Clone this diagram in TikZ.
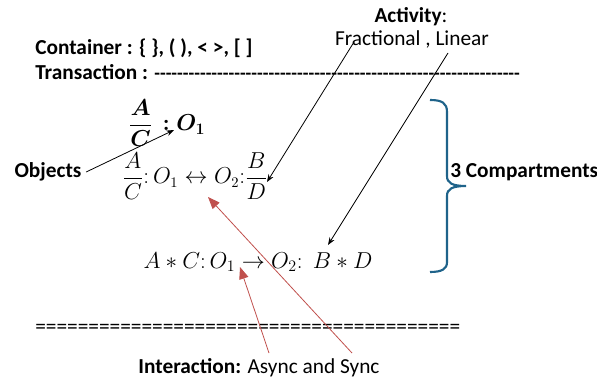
\documentclass[tikz,border=0pt]{standalone}
\usepackage{amsmath,bm}
\usepackage{fontspec}
\setmainfont{Carlito}
\newfontfamily\plainfont{Carlito}
\usetikzlibrary{arrows.meta}
\definecolor{bracecol}{RGB}{31,99,138}
\definecolor{interred}{RGB}{192,80,77}

\begin{document}
\begin{tikzpicture}[x=0.75pt, y=-0.75pt, >=Stealth, font=\fontsize{16}{19}\selectfont]
	\tikzset{lbl/.style={inner sep=0pt, anchor=west},
		ptr/.style={->, line width=0.6pt},
		redptr/.style={-{Triangle[width=7pt,length=9pt]}, interred, line width=0.6pt}}
	\useasboundingbox (0,0) rectangle (597,381);
	% header lines
	\node[lbl] (container) at (35,48) {\textbf{Container : \{ \}, ( ), < >, [ ]}};
	\node[lbl] (transaction) at (35,72) {\plainfont\bfseries Transaction : {\fontsize{14}{16}\selectfont\foreach \i in {1,...,64}{-}}};
	\node (activity) at (411,17) {\textbf{Activity}:};
	\node (fractional) at (412,39) {Fractional , Linear};
	% formulas
	\node (objfrac) at (167,123) {\fontsize{17}{20}\selectfont$\dfrac{\bm{A}}{\bm{C}}\,\bm{:}\bm{O}_{\bm{1}}$};
	\node (objects) at (48,172) {\textbf{Objects}};
	\node (relation) at (195,176) {$\dfrac{A}{C}{:}\,O_1\leftrightarrow O_2{:}\dfrac{B}{D}$};
	\node (flow) at (258,262) {\fontsize{17}{20}\selectfont$A\ast C{:}\,O_1\rightarrow O_2{:}\;\,B\ast D$};
	% brace
	\draw[bracecol, line width=1.6pt] (430,100) .. controls (442,100) and (447,103) .. (447,112) -- (447,176)
		.. controls (447,183) and (452,186) .. (466,186) .. controls (452,186) and (447,189) .. (447,196)
		-- (447,262) .. controls (447,269) and (442,272) .. (430,272);
	\node[lbl] (compartments) at (450,172) {\textbf{3 Compartments}};
	\node[lbl] (closing) at (35,329) {\plainfont\foreach \i in {1,...,40}{=}};
	\node (interaction) at (259,368) {\textbf{Interaction:} Async and Sync};
	% arrow ends
	\coordinate (o1tip) at (174,130);
	\coordinate (fracA) at (354,42);
	\coordinate (fracB) at (448,53);
	\coordinate (bdtip) at (267,182);
	\coordinate (bstartip) at (328,245);
	\coordinate (interA) at (269,353);
	\coordinate (interB) at (352,353);
	\coordinate (totip) at (240,267);
	\coordinate (o2tip) at (208,197);
	\draw[ptr] (objects.east) -- (o1tip);
	\draw[ptr] (fracA) -- (bdtip);
	\draw[ptr] (fracB) -- (bstartip);
	\draw[redptr] (interA) -- (totip);
	\draw[redptr] (interB) -- (o2tip);
\end{tikzpicture}
\end{document}
